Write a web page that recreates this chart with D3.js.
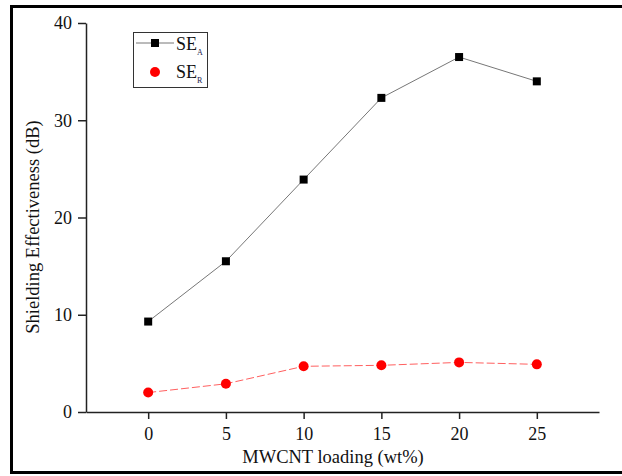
<!DOCTYPE html>
<html>
<head>
<meta charset="utf-8">
<script src="https://cdn.jsdelivr.net/npm/d3@7"></script>
<style>
  body { margin: 0; background: #fff; }
  svg text { font-family: "Liberation Serif", "Times New Roman", Times, Tinos, "DejaVu Serif", "Noto Serif", serif; fill: #111; }
</style>
</head>
<body>
<div id="chart"></div>
<script>
const loading = [0, 5, 10, 15, 20, 25]
const seA = [9.3, 15.5, 23.9, 32.3, 36.5, 34.0]
const seR = [2.0, 2.9, 4.7, 4.8, 5.1, 4.9]
const xTicks = [0, 5, 10, 15, 20, 25]
const yTicks = [0, 10, 20, 30, 40]

const width = 622, height = 476
const margin = {top: 23, right: 23, bottom: 64, left: 86}

const svg = d3.select("#chart").append("svg")
  .attr("width", width)
  .attr("height", height)

// outer frame
svg.append("rect")
  .attr("x", 11.5).attr("y", 6.5)
  .attr("width", 640).attr("height", 466)
  .attr("fill", "none")
  .attr("stroke", "#000")
  .attr("stroke-width", 3)

const x = d3.scaleLinear().domain([-4, 29]).range([margin.left, width - margin.right])
const y = d3.scaleLinear().domain([0, 40]).range([height - margin.bottom, margin.top])

const xAxis = svg.append("g")
  .attr("transform", `translate(0,${height - margin.bottom})`)
  .call(d3.axisBottom(x).tickValues(xTicks).tickSize(7).tickSizeOuter(0).tickPadding(8))
const yAxis = svg.append("g")
  .attr("transform", `translate(${margin.left},0)`)
  .call(d3.axisLeft(y).tickValues(yTicks).tickSize(8).tickSizeOuter(0).tickPadding(6))

;[xAxis, yAxis].forEach(g => {
  g.attr("font-family", null)
  g.select(".domain").attr("stroke", "#222").attr("stroke-width", 1.5)
  g.selectAll(".tick line").attr("stroke", "#222").attr("stroke-width", 1.5)
  g.selectAll(".tick text").attr("font-size", 18).attr("fill", "#111")
})

svg.append("text")
  .attr("x", 333)
  .attr("y", 463)
  .attr("text-anchor", "middle")
  .attr("font-size", 18.5)
  .text("MWCNT loading (wt%)")

svg.append("text")
  .attr("transform", `translate(39,227) rotate(-90)`)
  .attr("text-anchor", "middle")
  .attr("font-size", 18.5)
  .text("Shielding Effectiveness (dB)")

const line = d3.line().x((d, i) => x(loading[i])).y(d => y(d))

svg.append("path")
  .datum(seA)
  .attr("d", line)
  .attr("fill", "none")
  .attr("stroke", "#777")
  .attr("stroke-width", 1)

svg.append("path")
  .datum(seR)
  .attr("d", line)
  .attr("fill", "none")
  .attr("stroke", "#ff6060")
  .attr("stroke-width", 1)
  .attr("stroke-dasharray", "8,3")

svg.selectAll(".sq")
  .data(seA)
  .enter().append("rect")
  .attr("x", (d, i) => x(loading[i]) - 4)
  .attr("y", d => y(d) - 4)
  .attr("width", 8).attr("height", 8)
  .attr("fill", "#000")

svg.selectAll(".dot")
  .data(seR)
  .enter().append("circle")
  .attr("cx", (d, i) => x(loading[i]))
  .attr("cy", d => y(d))
  .attr("r", 5)
  .attr("fill", "#ff0000")

// legend
const legend = svg.append("g")
legend.append("rect")
  .attr("x", 133.5).attr("y", 32.5)
  .attr("width", 74).attr("height", 55)
  .attr("fill", "#fff")
  .attr("stroke", "#333")
  .attr("stroke-width", 1)

legend.append("line")
  .attr("x1", 136).attr("x2", 174).attr("y1", 43).attr("y2", 43)
  .attr("stroke", "#777").attr("stroke-width", 1)
legend.append("rect")
  .attr("x", 151).attr("y", 39).attr("width", 8).attr("height", 8).attr("fill", "#000")
legend.append("circle")
  .attr("cx", 155).attr("cy", 72).attr("r", 5).attr("fill", "#ff0000")

const labels = [{t: "SE", s: "A", y: 50}, {t: "SE", s: "R", y: 78}]
labels.forEach(l => {
  const txt = legend.append("text").attr("x", 176).attr("y", l.y).attr("font-size", 18)
  txt.append("tspan").text(l.t)
  txt.append("tspan").attr("font-size", 8).attr("dy", 5).attr("fill", "#1a1a4a").text(l.s)
})
</script>
</body>
</html>
